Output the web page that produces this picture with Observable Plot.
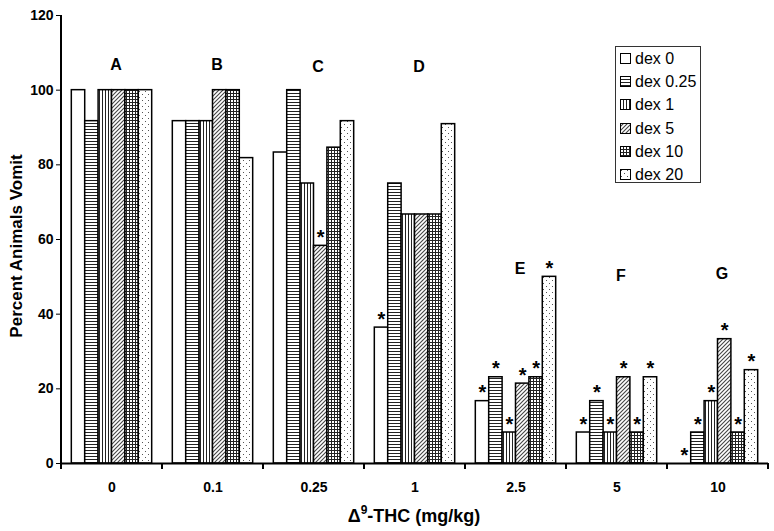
<!DOCTYPE html>
<html>
<head>
<meta charset="utf-8">
<script src="https://cdn.jsdelivr.net/npm/d3@7"></script>
<script src="https://cdn.jsdelivr.net/npm/@observablehq/plot@0.6"></script>
<style>
  body { margin: 0; background: white; }
  #wrap { position: relative; width: 774px; height: 531px; font-family: "Liberation Sans", Arial, sans-serif; }
  #legend { position: absolute; left: 615px; top: 46px; width: 86px; height: 137px; border: 1.5px solid #333; background: white; box-sizing: border-box; padding-top: 0px; }
  .row { height: 23.2px; line-height: 23.2px; font-size: 16px; display: flex; align-items: center; white-space: nowrap; }
  .row svg { margin-left: 4px; margin-right: 4px; }
</style>
</head>
<body>
<div id="wrap"></div>
<script>
// ---- data ----
const doses = ["0", "0.1", "0.25", "1", "2.5", "5", "10"];
const series = ["dex 0", "dex 0.25", "dex 1", "dex 5", "dex 10", "dex 20"];
const values = [
  [100, 91.7, 100, 100, 100, 100],
  [91.7, 91.7, 91.7, 100, 100, 81.8],
  [83.3, 100, 75, 58.3, 84.6, 91.7],
  [36.4, 75, 66.7, 66.7, 66.7, 90.9],
  [16.7, 23.1, 8.3, 21.4, 23.1, 50],
  [8.3, 16.7, 8.3, 23.1, 8.3, 23.1],
  [0, 8.3, 16.7, 33.3, 8.3, 25]
];
const significant = [
  [0, 0, 0, 0, 0, 0],
  [0, 0, 0, 0, 0, 0],
  [0, 0, 0, 1, 0, 0],
  [1, 0, 0, 0, 0, 0],
  [1, 1, 1, 1, 1, 1],
  [1, 1, 1, 1, 1, 1],
  [1, 1, 1, 1, 1, 1]
];
const groupLetters = ["A", "B", "C", "D", "E", "F", "G"];
const letterLevel = [106.7, 106.7, 106.2, 106.2, 52, 50.2, 50.7];
const yTicks = [0, 20, 40, 60, 80, 100, 120];

const patternIds = ["pat0", "pat1", "pat2", "pat3", "pat4", "pat5"];
const fillOf = Object.fromEntries(series.map((s, j) => [s, `url(#${patternIds[j]})`]));

const data = doses.flatMap((d, i) => series.map((s, j) => ({dose: d, series: s, value: values[i][j], sig: significant[i][j]})));
const letterData = doses.map((d, i) => ({dose: d, letter: groupLetters[i], level: letterLevel[i]}));

const font = "'Liberation Sans', Arial, sans-serif";

const plot = Plot.plot({
  width: 774,
  height: 531,
  marginLeft: 61,
  marginRight: 6,
  marginTop: 15,
  marginBottom: 68,
  style: {fontFamily: font, fontSize: "14px", color: "black", background: "white", overflow: "visible"},
  fx: {domain: doses, padding: 0, round: false, label: null},
  x: {domain: series, paddingInner: 0, paddingOuter: 0.77, round: false, axis: null},
  y: {domain: [0, 120]},
  marks: [
    Plot.barY(data, {fx: "dose", x: "series", y: "value", fill: d => fillOf[d.series], stroke: "black", strokeWidth: 1.5}),
    Plot.ruleY([0], {stroke: "black", strokeWidth: 2}),
    Plot.text(data.filter(d => d.sig), {fx: "dose", x: "series", y: "value", text: () => "*", lineAnchor: "bottom", dy: -2, fontSize: 20, fontWeight: "bold", fill: "black"}),
    Plot.text(letterData, {fx: "dose", y: "level", text: "letter", dx: 4, fontSize: 16, fontWeight: "bold", fill: "black"}),
    Plot.axisY({ticks: yTicks, tickSize: 5, tickPadding: 3, fontSize: 14, fontWeight: "bold", label: null, tickFormat: d => d}),
    Plot.axisFx({anchor: "bottom", tickSize: 0, tickPadding: 19, fontSize: 14, fontWeight: "bold", label: null})
  ]
});

// ---- patterns ----
const svg = d3.select(plot);
const defs = svg.insert("defs", ":first-child");
function pat(id, w, h) {
  const p = defs.append("pattern").attr("id", id).attr("patternUnits", "userSpaceOnUse").attr("width", w).attr("height", h);
  p.append("rect").attr("width", w).attr("height", h).attr("fill", "white");
  return p;
}
pat("pat0", 4, 4);
pat("pat1", 3, 3).append("rect").attr("width", 3).attr("height", 1).attr("fill", "#222");
pat("pat2", 3, 3).append("rect").attr("width", 1).attr("height", 3).attr("fill", "#222");
pat("pat3", 4, 4).append("path").attr("d", "M0,4L4,0M-1,1L1,-1M3,5L5,3").attr("stroke", "#444").attr("stroke-width", 1.1);
const g4 = pat("pat4", 3, 3);
g4.append("rect").attr("width", 3).attr("height", 1).attr("fill", "#222");
g4.append("rect").attr("width", 1).attr("height", 3).attr("fill", "#222");
const g5 = pat("pat5", 6, 6);
g5.append("rect").attr("x", 1).attr("y", 1).attr("width", 1).attr("height", 1).attr("fill", "#555");
g5.append("rect").attr("x", 4).attr("y", 4).attr("width", 1).attr("height", 1).attr("fill", "#555");

// ---- axis line, boundary ticks, titles ----
const ys = plot.scale("y");
const fxs = plot.scale("fx");
const y0 = ys.apply(0), yTop = ys.apply(120);
const xLeft = fxs.apply(doses[0]);
svg.append("line").attr("x1", xLeft).attr("x2", xLeft).attr("y1", yTop).attr("y2", y0 + 1).attr("stroke", "black").attr("stroke-width", 2);
const bounds = doses.map(d => fxs.apply(d)).concat([fxs.apply(doses[doses.length - 1]) + fxs.bandwidth]);
svg.append("g").selectAll("line").data(bounds).join("line")
  .attr("x1", d => d).attr("x2", d => d).attr("y1", y0).attr("y2", y0 + 6)
  .attr("stroke", "black").attr("stroke-width", 2);

const xt = svg.append("text").attr("x", 414).attr("y", 522).attr("text-anchor", "middle")
  .attr("font-family", font).attr("font-size", 18).attr("font-weight", "bold").attr("fill", "black");
xt.append("tspan").text("Δ");
xt.append("tspan").attr("font-size", 12).attr("dy", -8).text("9");
xt.append("tspan").attr("dy", 8).text("-THC (mg/kg)");

svg.append("text").attr("transform", "translate(22,246) rotate(-90)").attr("text-anchor", "middle")
  .attr("font-family", font).attr("font-size", 17).attr("font-weight", "bold").attr("fill", "black")
  .text("Percent Animals Vomit");

const wrap = document.getElementById("wrap");
wrap.appendChild(plot);

// ---- legend ----
const legend = d3.select(wrap).append("div").attr("id", "legend");
series.forEach((s, j) => {
  const row = legend.append("div").attr("class", "row");
  const sw = row.append("svg").attr("width", 11).attr("height", 11);
  sw.append("rect").attr("x", 0.5).attr("y", 0.5).attr("width", 10).attr("height", 10)
    .attr("fill", fillOf[s]).attr("stroke", "black").attr("stroke-width", 1);
  row.append("span").text(s);
});
</script>
</body>
</html>
